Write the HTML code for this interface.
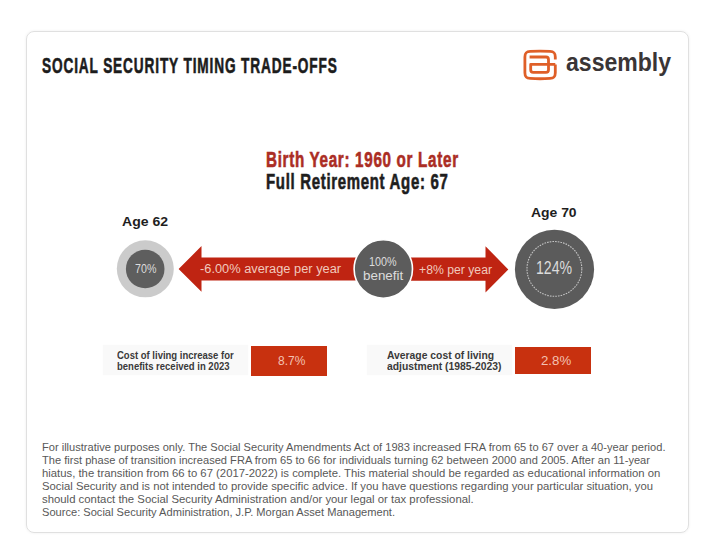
<!DOCTYPE html>
<html><head><meta charset="utf-8">
<style>
html,body{margin:0;padding:0;background:#fff;width:720px;height:556px;overflow:hidden;position:relative;font-family:"Liberation Sans",sans-serif;}
.a{position:absolute;white-space:nowrap;}
.card{position:absolute;left:26px;top:30.6px;width:661px;height:500.4px;border:1px solid #e0e0e0;border-radius:8px;box-shadow:0 0 3px rgba(0,0,0,0.07);}
.cond{font-weight:bold;transform-origin:0 0;line-height:1;-webkit-text-stroke:0.6px currentColor;}
#title{left:42px;top:55px;font-size:22px;color:#1c1c1c;}
#brand{left:566px;top:50.2px;font-size:25px;font-weight:bold;color:#3a3536;line-height:1;}
#sub1{left:266px;top:148.5px;font-size:22px;color:#ab2d24;}
#sub2{left:266px;top:170.8px;font-size:22px;color:#1e1e1e;}
.age{font-weight:bold;font-size:13.5px;color:#1e1e1e;line-height:1;}
#age62{left:122px;top:215px;}
#age70{left:531px;top:206px;}
.ctext{color:#dcdcdc;font-size:12px;line-height:1;}
.lbl{font-weight:bold;font-size:10.5px;color:#3a3a3a;line-height:11.2px;}
.grey{position:absolute;background:#f9f9f9;box-shadow:0 0 2px #fafafa;}
.red{position:absolute;background:#c8310f;}
.val{color:#f3c1b2;font-size:13px;line-height:1;}
.ft{font-size:10.3px;color:#585858;line-height:1;transform-origin:0 0;}
#title{transform:scaleX(0.62);transform-origin:0 0;letter-spacing:1.4px;}
#brand{transform:scaleX(0.922);transform-origin:0 0;}
#sub1{transform:scaleX(0.691);transform-origin:0 0;letter-spacing:1.0px;}
#sub2{transform:scaleX(0.681);transform-origin:0 0;letter-spacing:1.0px;}
#age62{transform:scaleX(1.04);transform-origin:0 0;}
#age70{transform:scaleX(1.03);transform-origin:0 0;}
#t70{transform:scaleX(0.89);transform-origin:0 0;}
#t100{transform:scaleX(0.9);transform-origin:0 0;}
#tben{transform:scaleX(1.116);transform-origin:0 0;}
#t124{transform:scaleX(0.784);transform-origin:0 0;}
#arrL{transform:scaleX(1.068);transform-origin:0 0;}
#arrR{transform:scaleX(1.018);transform-origin:0 0;}
#lbl1{transform:scaleX(0.905);transform-origin:0 0;}
#lbl2{transform:scaleX(0.985);transform-origin:0 0;}
#v1{transform:scaleX(0.92);transform-origin:0 0;}
#v2{transform:scaleX(1.02);transform-origin:0 0;}
#f1{transform:scaleX(1.0761);transform-origin:0 0;}
#f2{transform:scaleX(1.0776);transform-origin:0 0;}
#f3{transform:scaleX(1.098);transform-origin:0 0;}
#f4{transform:scaleX(1.097);transform-origin:0 0;}
#f5{transform:scaleX(1.1027);transform-origin:0 0;}
#f6{transform:scaleX(1.077);transform-origin:0 0;}
</style></head>
<body>
<div class="card"></div>

<div id="title" class="a cond">SOCIAL SECURITY TIMING TRADE-OFFS</div>

<svg class="a" style="left:520px;top:46px" width="40" height="36" viewBox="0 0 40 36">
  <g fill="none" stroke="#df5f28" stroke-width="2.8" stroke-linecap="butt" stroke-linejoin="round">
    <path d="M35.3 13.6 V11 C35.3 6.5 33.5 5.6 30 5.4 C24 5.0 16 5.0 10.2 5.4 C6.7 5.6 4.9 6.5 4.9 11 V26.8 C4.9 31.3 6.7 32.2 10.2 32.4 C16 32.8 24 32.8 30 32.4 C33.5 32.2 35.3 31.3 35.3 26.8 V18.4"/>
    <path d="M9.6 11 H26 C27.9 11 28.5 11.8 28.5 13.8 V23.7 C28.5 25.6 27.9 26.3 26 26.3 H13.2 C11.3 26.3 10.7 25.6 10.7 23.7 V18.4 H35.3"/>
  </g>
</svg>
<div id="brand" class="a">assembly</div>

<div id="sub1" class="a cond">Birth Year: 1960 or Later</div>
<div id="sub2" class="a cond">Full Retirement Age: 67</div>

<div id="age62" class="a age">Age 62</div>
<div id="age70" class="a age">Age 70</div>

<svg class="a" style="left:0;top:0" width="720" height="556">
  <!-- left small circle -->
  <circle cx="145.3" cy="268.8" r="28.5" fill="#cbcbcb"/>
  <circle cx="145.2" cy="269" r="19.3" fill="#5e5e5e"/>
  <!-- arrows -->
  <polygon points="178.6,269 201.5,246.1 201.5,257.4 356,257.4 356,280.6 201.5,280.6 201.5,291.7" fill="#bf2412"/>
  <polygon points="411,257.5 485.5,257.5 485.5,246.2 508.3,269.5 485.5,292.5 485.5,280.8 411,280.8" fill="#bf2412"/>
  <!-- center circle -->
  <circle cx="383.3" cy="269" r="29.2" fill="#5c5c5c" stroke="#fff" stroke-width="1.6"/>
  <!-- age70 big circle -->
  <circle cx="554.5" cy="269.4" r="39.6" fill="#5b5b5b"/>
  <circle cx="554.4" cy="268.9" r="27.4" fill="none" stroke="#c4c4c4" stroke-width="1.1" stroke-dasharray="1.6 1.1"/>
</svg>

<div id="t70" class="a ctext" style="left:135px;top:263px;">70%</div>
<div id="t100" class="a ctext" style="left:369px;top:256px;">100%</div>
<div id="tben" class="a ctext" style="left:362.5px;top:270px;">benefit</div>
<div id="t124" class="a ctext" style="left:536px;top:258.8px;font-size:18px;">124%</div>

<div id="arrL" class="a" style="left:200px;top:263px;color:#f1c9bd;font-size:12px;line-height:1;">-6.00% average per year</div>
<div id="arrR" class="a" style="left:419px;top:263.8px;color:#f1c9bd;font-size:12px;line-height:1;">+8% per year</div>

<div class="grey" style="left:103px;top:345px;width:145px;height:30px;"></div>
<div id="lbl1" class="a lbl" style="left:117px;top:350.2px;">Cost of living increase for<br>benefits received in 2023</div>
<div class="red" style="left:251px;top:346.3px;width:76px;height:29.3px;"></div>
<div id="v1" class="a val" style="left:277.5px;top:354px;">8.7%</div>

<div class="grey" style="left:367px;top:345px;width:145px;height:30px;"></div>
<div id="lbl2" class="a lbl" style="left:387px;top:350px;">Average cost of living<br>adjustment (1985-2023)</div>
<div class="red" style="left:515px;top:347.2px;width:76.3px;height:26.6px;"></div>
<div id="v2" class="a val" style="left:541px;top:354px;">2.8%</div>

<div id="f1" class="a ft" style="left:42px;top:443.4px;">For illustrative purposes only. The Social Security Amendments Act of 1983 increased FRA from 65 to 67 over a 40-year period.</div>
<div id="f2" class="a ft" style="left:42px;top:456.4px;">The first phase of transition increased FRA from 65 to 66 for individuals turning 62 between 2000 and 2005. After an 11-year</div>
<div id="f3" class="a ft" style="left:42px;top:469.4px;">hiatus, the transition from 66 to 67 (2017-2022) is complete. This material should be regarded as educational information on</div>
<div id="f4" class="a ft" style="left:42px;top:482.4px;">Social Security and is not intended to provide specific advice. If you have questions regarding your particular situation, you</div>
<div id="f5" class="a ft" style="left:42px;top:495.4px;">should contact the Social Security Administration and/or your legal or tax professional.</div>
<div id="f6" class="a ft" style="left:42px;top:508.4px;">Source: Social Security Administration, J.P. Morgan Asset Management.</div>
</body></html>
